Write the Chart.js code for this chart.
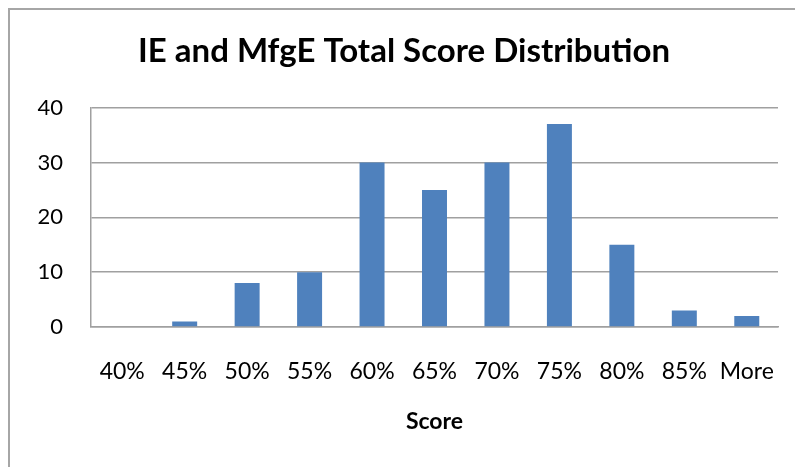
<!DOCTYPE html>
<html>
<head>
<meta charset="utf-8">
<script src="https://cdn.jsdelivr.net/npm/chart.js@4/dist/chart.umd.min.js"></script>
<style>
  body { margin: 0; background: #fff; }
  #wrap { position: relative; width: 795px; height: 467px; }
  #frame { position: absolute; left: 8px; top: 8px; width: 787px; height: 459px; border-left: 2px solid #a6a6a6; border-top: 2px solid #a6a6a6; pointer-events: none; }
</style>
</head>
<body>
<div id="wrap">
  <canvas id="myChart" width="795" height="467"></canvas>
  <div id="frame"></div>
</div>
<script>
// score buckets and counts
const categories = ["40%", "45%", "50%", "55%", "60%", "65%", "70%", "75%", "80%", "85%", "More"];
const counts = [0, 1, 8, 10, 30, 25, 30, 37, 15, 3, 2];
const yTicks = [0, 10, 20, 30, 40];

const ctx = document.getElementById("myChart").getContext("2d");
new Chart(ctx, {
	type: "bar",
	data: {
		labels: categories,
		datasets: [
			{
				label: "Frequency",
				data: counts,
				backgroundColor: "#4f81bd",
				borderWidth: 0,
				categoryPercentage: 0.4,
				barPercentage: 1.0,
			},
		],
	},
	options: {
		responsive: false,
		animation: false,
		layout: { padding: { left: 30, right: 17, top: 10, bottom: 30 } },
		plugins: {
			legend: { display: false },
			tooltip: { enabled: false },
			title: {
				display: true,
				text: "IE and MfgE Total Score Distribution",
				color: "#000",
				font: { family: "Lato", size: 33, weight: "bold" },
				padding: { top: 22, bottom: 36 },
			},
		},
		scales: {
			x: {
				afterFit: (s) => { s.height = 110; s.paddingLeft = 0; s.paddingRight = 0; },
				grid: { display: false, drawTicks: false },
				border: { color: "#a0a0a0", width: 1.5 },
				ticks: { color: "#000", padding: 31, font: { family: "Lato", size: 23 } },
				title: {
					display: true,
					text: "Score",
					color: "#000",
					font: { family: "Lato", size: 23, weight: "bold" },
					padding: { top: 0, bottom: 2 },
				},
			},
			y: {
				min: 0,
				max: 40,
				afterBuildTicks: (s) => { s.ticks = yTicks.map((v) => ({ value: v })); },
				afterFit: (s) => { s.width = 61; },
				grid: { color: "#a0a0a0", lineWidth: 1.5, drawTicks: false },
				border: { color: "#a0a0a0", width: 1.5 },
				ticks: { color: "#000", padding: 28, font: { family: "Lato", size: 22 } },
			},
		},
	},
});
</script>
</body>
</html>
